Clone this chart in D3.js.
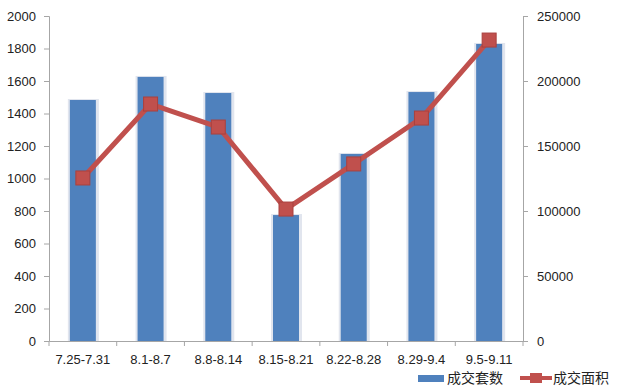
<!DOCTYPE html>
<html>
<head>
<meta charset="utf-8">
<script src="https://cdn.jsdelivr.net/npm/d3@7"></script>
<style>
body { margin: 0; background: #fff; }
text { font-family: "Liberation Sans", "Noto Sans CJK SC", sans-serif; }
</style>
</head>
<body>
<svg width="625" height="389"></svg>
<script>
let categories = ['7.25-7.31', '8.1-8.7', '8.8-8.14', '8.15-8.21', '8.22-8.28', '8.29-9.4', '9.5-9.11']
let counts = [1483, 1625, 1526, 775, 1151, 1532, 1828]
let areas = [125400, 182300, 164600, 101500, 136200, 171500, 231500]
let leftTicks = [0, 200, 400, 600, 800, 1000, 1200, 1400, 1600, 1800, 2000]
let rightTicks = [0, 50000, 100000, 150000, 200000, 250000]

let barColor = '#4f81bd',
    lineColor = '#c0504d',
    axisColor = '#a6a6a6'

let svg = d3.select('svg')
let plotL = 49, plotR = 523, plotT = 16, plotB = 341

let x = d3.scaleBand().domain(categories).range([plotL, plotR])
let y = d3.scaleLinear().domain([0, 2000]).range([plotB, plotT])
let y2 = d3.scaleLinear().domain([0, 250000]).range([plotB, plotT])

let barW = 26

// light shadow round the bars
svg.selectAll('rect.shadow')
    .data(counts)
    .enter()
    .append('rect')
    .attr('class', 'shadow')
    .attr('x', (d, i) => x(categories[i]) + x.bandwidth() / 2 - barW / 2 - 2)
    .attr('y', d => y(d) - 1)
    .attr('width', barW + 5)
    .attr('height', d => plotB - y(d) + 1)
    .attr('fill', '#e1e5ee')

svg.selectAll('rect.bar')
    .data(counts)
    .enter()
    .append('rect')
    .attr('class', 'bar')
    .attr('x', (d, i) => x(categories[i]) + x.bandwidth() / 2 - barW / 2)
    .attr('y', d => y(d))
    .attr('width', barW)
    .attr('height', d => plotB - y(d))
    .attr('fill', barColor)

// axes
let gl = svg.append('g').attr('transform', 'translate(' + plotL + ',0)')
    .call(d3.axisLeft(y).tickValues(leftTicks).tickSize(5).tickPadding(8).tickFormat(d3.format('d')))
let gr = svg.append('g').attr('transform', 'translate(' + plotR + ',0)')
    .call(d3.axisRight(y2).tickValues(rightTicks).tickSize(5).tickPadding(9).tickFormat(d3.format('d')))
let gb = svg.append('g').attr('transform', 'translate(0,' + plotB + ')')
    .call(d3.axisBottom(x).tickSize(0).tickPadding(14))

for (let g of [gl, gr, gb]) {
    g.select('.domain').attr('stroke', axisColor)
    g.selectAll('.tick line').attr('stroke', axisColor)
    g.selectAll('text').attr('fill', '#222').style('font-size', '13px')
}

// tick marks between categories
gb.selectAll('line.sep')
    .data(d3.range(categories.length + 1))
    .enter()
    .append('line')
    .attr('class', 'sep')
    .attr('x1', i => plotL + i * x.step())
    .attr('x2', i => plotL + i * x.step())
    .attr('y1', 0)
    .attr('y2', 5)
    .attr('stroke', axisColor)

// line series
let line = d3.line()
    .x((d, i) => x(categories[i]) + x.bandwidth() / 2)
    .y(d => y2(d))

svg.append('path')
    .datum(areas)
    .attr('d', line)
    .attr('fill', 'none')
    .attr('stroke', lineColor)
    .attr('stroke-width', 5)
    .attr('stroke-linejoin', 'round')

svg.selectAll('rect.marker')
    .data(areas)
    .enter()
    .append('rect')
    .attr('class', 'marker')
    .attr('x', (d, i) => x(categories[i]) + x.bandwidth() / 2 - 7)
    .attr('y', d => y2(d) - 7)
    .attr('width', 14)
    .attr('height', 14)
    .attr('fill', lineColor)
    .attr('stroke', '#a9413e')
    .attr('stroke-width', 1)

// legend
let legend = svg.append('g').attr('transform', 'translate(0,378)')
legend.append('rect')
    .attr('x', 418).attr('y', -3).attr('width', 26).attr('height', 7)
    .attr('fill', barColor)
legend.append('text')
    .attr('x', 447).attr('y', 5)
    .text('成交套数')
    .attr('fill', '#222')
    .style('font-size', '14px')
legend.append('line')
    .attr('x1', 520).attr('x2', 552).attr('y1', 0).attr('y2', 0)
    .attr('stroke', lineColor).attr('stroke-width', 4)
legend.append('rect')
    .attr('x', 530).attr('y', -5).attr('width', 12).attr('height', 10)
    .attr('fill', lineColor)
legend.append('text')
    .attr('x', 553).attr('y', 5)
    .text('成交面积')
    .attr('fill', '#222')
    .style('font-size', '14px')
</script>
</body>
</html>
